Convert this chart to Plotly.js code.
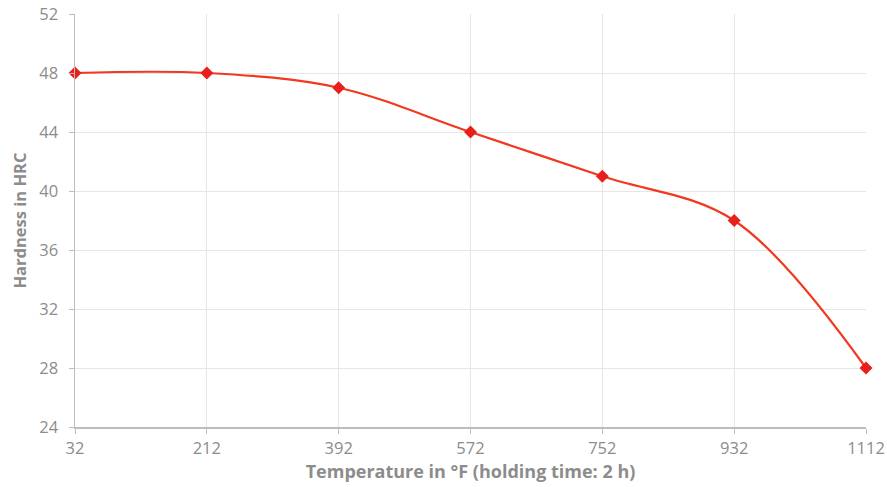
<!DOCTYPE html>
<html>
<head>
<meta charset="utf-8">
<script src="https://cdn.plot.ly/plotly-3.0.1.min.js"></script>
<style>html,body{margin:0;padding:0;background:#fff;}#chart{width:887px;height:487px;}</style>
</head>
<body>
<div id="chart"></div>
<script>
const temperatures = [32, 212, 392, 572, 752, 932, 1112];
const hardness = [48, 48, 47, 44, 41, 38, 28];
const xTicks = [32, 212, 392, 572, 752, 932, 1112];
const yTicks = [24, 28, 32, 36, 40, 44, 48, 52];

const trace = {
  x: temperatures,
  y: hardness,
  type: 'scatter',
  mode: 'lines+markers',
  line: {shape: 'spline', smoothing: 1, color: '#f0391f', width: 2.2},
  marker: {symbol: 'diamond', size: 10, color: '#e8201c'},
  cliponaxis: false,
  hoverinfo: 'x+y'
};

const tickFont = {family: 'Open Sans, sans-serif', size: 16.5, color: '#8c8c8c'};
const layout = {
  width: 887, height: 487,
  margin: {l: 75, r: 21, t: 14, b: 60},
  paper_bgcolor: '#fff', plot_bgcolor: '#fff',
  showlegend: false,
  xaxis: {
    range: [32, 1112], tickvals: xTicks, ticktext: xTicks.map(String),
    showgrid: true, gridcolor: '#e6e6e6', gridwidth: 1,
    showline: true, linecolor: '#bdbdbd', linewidth: 1.5,
    ticks: 'outside', ticklen: 5, tickcolor: '#bdbdbd',
    ticklabelstandoff: 1,
    zeroline: false, tickfont: tickFont,
    title: {text: 'Temperature in °F (holding time: 2 h)', standoff: 4,
      font: {family: 'Open Sans, sans-serif', size: 18, color: '#8c8c8c', weight: 'bold'}}
  },
  yaxis: {
    range: [24, 52], tickvals: yTicks, ticktext: yTicks.map(String),
    showgrid: true, gridcolor: '#e6e6e6', gridwidth: 1,
    showline: true, linecolor: '#bdbdbd', linewidth: 1.5,
    ticks: 'outside', ticklen: 5, tickcolor: '#bdbdbd',
    ticklabelstandoff: 7,
    zeroline: false, tickfont: tickFont,
    title: {text: 'Hardness in HRC', standoff: 8,
      font: {family: 'Open Sans, sans-serif', size: 16.5, color: '#8c8c8c', weight: 'bold'}}
  }
};

Plotly.newPlot('chart', [trace], layout, {displayModeBar: false, staticPlot: true});
</script>
</body>
</html>
